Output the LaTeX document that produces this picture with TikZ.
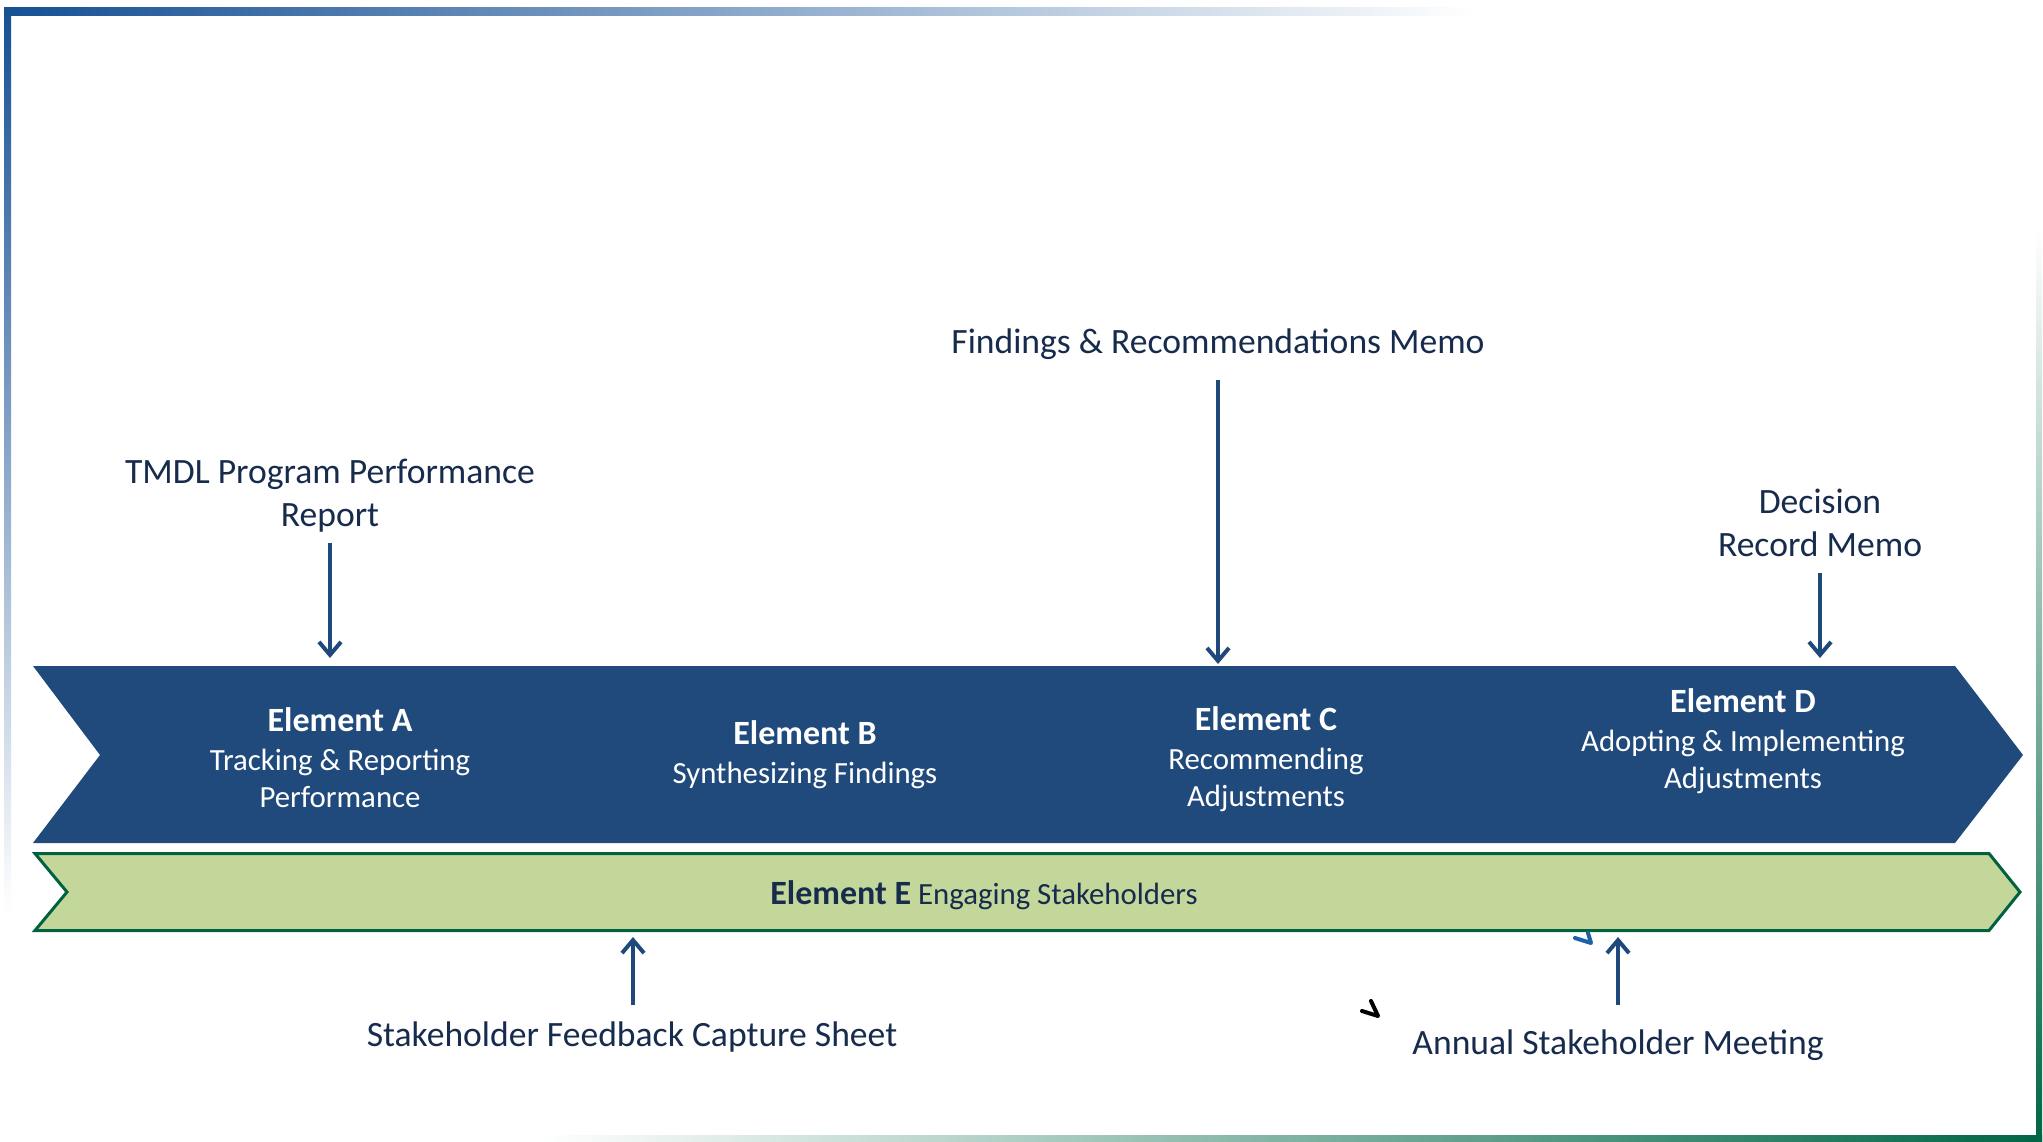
\documentclass[tikz,border=0pt]{standalone}
\usepackage{fontspec}
\setmainfont{Carlito}
\usetikzlibrary{arrows.meta}
\definecolor{bandblue}{RGB}{32,74,124}
\definecolor{bandgreen}{RGB}{196,215,155}
\definecolor{edgegreen}{RGB}{0,98,62}
\definecolor{arrowblue}{RGB}{31,73,125}
\definecolor{textnavy}{RGB}{23,43,77}
\definecolor{frameblue}{RGB}{22,80,148}
\definecolor{framegreen}{RGB}{0,102,70}
\definecolor{markblue}{RGB}{28,98,168}
\newcommand{\etitlefont}{\fontsize{17}{20}\selectfont\bfseries}
\begin{document}
\begin{tikzpicture}[x=0.5pt,y=-0.5pt,
  lab/.style={font=\fontsize{17.8}{21.5}\selectfont, text=textnavy, align=center, inner sep=0pt},
  elem/.style={font=\fontsize{15.4}{18.5}\selectfont, text=white, align=center, inner sep=0pt},
  flow/.style={draw=arrowblue, line width=2pt, -{Straight Barb[length=6.5pt,width=11pt]}},
  stray/.style={line width=2pt, line cap=round, line join=round}]
\useasboundingbox (0,0) rectangle (2043,1141);
\fill[white] (0,0) rectangle (2043,1141);
% frame
\shade[left color=frameblue, right color=white] (4,7) rectangle (1475,15);
\shade[top color=frameblue, bottom color=white] (4,7) rectangle (11,913);
\shade[top color=white, bottom color=framegreen] (2036,230) rectangle (2042,1141);
\shade[left color=white, right color=framegreen] (540,1135) rectangle (2042,1141);
% bands
\fill[bandblue] (33,666) -- (1955,666) -- (2023,755) -- (1955,843) -- (33,843) -- (100,755) -- cycle;
\filldraw[fill=bandgreen, draw=edgegreen, line width=1.5pt, line join=miter]
  (35,853.5) -- (1989,853.5) -- (2020,892) -- (1989,930.5) -- (35,930.5) -- (67,892) -- cycle;
% element texts
\node[elem] (ea) at (340,758) {{\etitlefont Element A}\\[1pt]Tracking \& Reporting\\Performance};
\node[elem] (eb) at (805,755) {{\etitlefont Element B}\\[1pt]Synthesizing Findings};
\node[elem] (ec) at (1266,759) {{\etitlefont Element C}\\[1pt]Recommending\\Adjustments};
\node[elem] (ed) at (1743,741) {{\etitlefont Element D}\\[1pt]Adopting \& Implementing\\Adjustments};
\node[elem, text=textnavy] (ee) at (984,895) {{\etitlefont Element E} Engaging Stakeholders};
% labels
\node[lab] (tmdl) at (330,496) {TMDL Program Performance\\Report};
\node[lab] (memo) at (1218,344) {Findings \& Recommendations Memo};
\node[lab] (dec) at (1820,523) {Decision\\Record Memo};
\node[lab] (sfc) at (632,1037) {Stakeholder Feedback Capture Sheet};
\node[lab] (asm) at (1618,1045) {Annual Stakeholder Meeting};
% connectors
\coordinate (tmdlS) at (330,543); \coordinate (tmdlE) at (330,658);
\coordinate (memoS) at (1218,380); \coordinate (memoE) at (1218,664);
\coordinate (decS) at (1820,573); \coordinate (decE) at (1820,658);
\coordinate (sfcS) at (633,1005); \coordinate (sfcE) at (633,937);
\coordinate (asmS) at (1618,1005); \coordinate (asmE) at (1618,937);
\draw[flow] (tmdlS) -- (tmdlE);
\draw[flow] (memoS) -- (memoE);
\draw[flow] (decS) -- (decE);
\draw[flow] (sfcS) -- (sfcE);
\draw[flow] (asmS) -- (asmE);
% stray marks
\draw[stray, black] (1362,1011) -- (1378,1016) -- (1371,1001);
\draw[stray, markblue] (1575,938) -- (1591,943) -- (1588,933);
\end{tikzpicture}
\end{document}
